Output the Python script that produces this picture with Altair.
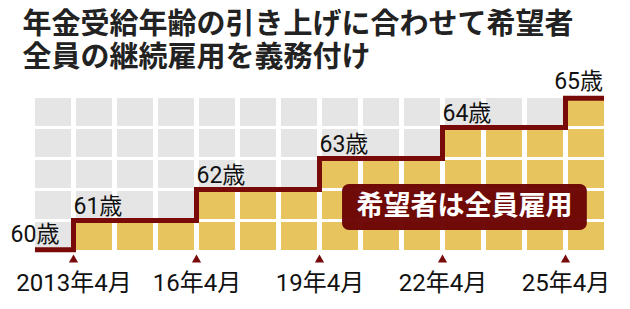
import altair as alt
import pandas as pd

# ---------------- data ----------------
title_lines = ["年金受給年齢の引き上げに合わせて希望者", "全員の継続雇用を義務付け"]
ages = [60, 61, 62, 63, 64, 65]
start_years = [2012, 2013, 2016, 2019, 2022, 2025]   # April of each year
end_year = 2026
n_rows = 5
tick_years = [2013, 2016, 2019, 2022, 2025]
tick_labels = ["2013年4月", "16年4月", "19年4月", "22年4月", "25年4月"]
note_text = "希望者は全員雇用"

# ---------------- styles ----------------
GOLD = "#e8c45e"
GRAY = "#e5e5e5"
DARK = "#780a0a"
BOX = "#6a0202"
NUM_FONT = "'Liberation Sans Narrow', 'Roboto', 'Noto Sans CJK JP', sans-serif"
JP_FONT = "Noto Sans CJK JP"

# ---------------- derived tables ----------------
levels = [a - ages[0] for a in ages]

def level_of(year):
    lv = 0
    for s, l in zip(start_years, levels):
        if year >= s:
            lv = l
    return lv

cells = pd.DataFrame(
    [
        {"col": y, "row": r, "state": "filled" if r < level_of(y) else "empty"}
        for y in range(start_years[0], end_year)
        for r in range(n_rows)
    ]
)

INSET_X = 0.06
INSET_Y = 0.06
xmin, xmax = start_years[0] + INSET_X, end_year - INSET_X
ymin, ymax = INSET_Y, n_rows - INSET_Y

pts_x = start_years + [end_year]
pts_y = levels + [levels[-1]]
line_df = pd.DataFrame(
    {
        "x": [min(max(v, xmin), xmax) for v in pts_x],
        "y": [min(max(v, ymin), ymax) for v in pts_y],
    }
)

age_df = pd.DataFrame(
    {
        "age": ages,
        "label": [f"{a}歳" for a in ages],
        "x": [max(s, xmin) for s in start_years],
        "y": [min(max(l, ymin), ymax) for l in levels],
        "xend": [xmax] * len(ages),
    }
)

ticks_df = pd.DataFrame({"year": tick_years, "zero": [0] * len(tick_years)})

xs = alt.Scale(domain=[start_years[0], end_year], nice=False, zero=False)
ys = alt.Scale(domain=[0, n_rows], nice=False, zero=False)

label_expr = (
    "[" + ",".join(f"'{t}'" for t in tick_labels) + "]"
    + "[indexof([" + ",".join(str(y) for y in tick_years) + "], datum.value)]"
)

x_axis = alt.Axis(
    values=tick_years,
    labelExpr=label_expr,
    domain=False,
    ticks=False,
    tickSize=0,
    grid=False,
    title=None,
    labelFont=NUM_FONT,
    labelFontSize=24,
    labelColor="#111111",
    labelPadding=20,
    labelFlush=False,
    labelOverlap=False,
)

base_cells = alt.Chart(cells).transform_calculate(
    x0="datum.col + 0.061",
    x1="datum.col + 0.939",
    y0="datum.row + 0.048",
    y1="datum.row + 0.952",
)
grid = base_cells.mark_rect().encode(
    x=alt.X("x0:Q", scale=xs, axis=x_axis),
    x2="x1:Q",
    y=alt.Y("y0:Q", scale=ys, axis=None),
    y2="y1:Q",
    color=alt.Color(
        "state:N",
        scale=alt.Scale(domain=["filled", "empty"], range=[GOLD, GRAY]),
        legend=None,
    ),
)

step = alt.Chart(line_df).mark_line(
    interpolate="step-after", strokeWidth=5, color=DARK, strokeCap="butt", strokeJoin="miter"
).encode(
    x=alt.X("x:Q", scale=xs),
    y=alt.Y("y:Q", scale=ys),
    order="x:Q",
)

tri = alt.Chart(ticks_df).mark_point(
    shape="triangle-up", filled=True, size=85, color=DARK, opacity=1, yOffset=7
).encode(
    x=alt.X("year:Q", scale=xs),
    y=alt.Y("zero:Q", scale=ys),
)

AGE_SIZE = 23
age_base = alt.Chart(age_df)
age_first = age_base.transform_filter(f"datum.age == {ages[0]}").mark_text(
    font=NUM_FONT, fontSize=AGE_SIZE, color="#111111", align="center", baseline="alphabetic", dy=-8
).encode(x=alt.X("x:Q", scale=xs), y=alt.Y("y:Q", scale=ys), text="label:N")

age_mid = age_base.transform_filter(
    f"datum.age > {ages[0]} && datum.age < {ages[-1]}"
).mark_text(
    font=NUM_FONT, fontSize=AGE_SIZE, color="#111111", align="left", baseline="alphabetic", dx=0, dy=-7
).encode(x=alt.X("x:Q", scale=xs), y=alt.Y("y:Q", scale=ys), text="label:N")

age_last = age_base.transform_filter(f"datum.age == {ages[-1]}").mark_text(
    font=NUM_FONT, fontSize=AGE_SIZE, color="#111111", align="right", baseline="alphabetic", dx=-1, dy=-9
).encode(x=alt.X("xend:Q", scale=xs), y=alt.Y("y:Q", scale=ys), text="label:N")

note_box = alt.Chart(pd.DataFrame({"t": [note_text]})).mark_rect(
    color=BOX, cornerRadius=7, opacity=0.96
).encode(
    x=alt.X(datum=2019.55, type="quantitative", scale=xs),
    x2=alt.X2(datum=2025.52),
    y=alt.Y(datum=0.69, type="quantitative", scale=ys),
    y2=alt.Y2(datum=2.18),
)
note_txt = alt.Chart(pd.DataFrame({"t": [note_text]})).mark_text(
    font=JP_FONT, fontSize=27, fontWeight="bold", color="white", align="center", baseline="middle"
).encode(
    x=alt.X(datum=2022.535, type="quantitative", scale=xs),
    y=alt.Y(datum=1.44, type="quantitative", scale=ys),
    text="t:N",
)

chart = (
    alt.layer(grid, step, tri, age_first, age_mid, age_last, note_box, note_txt)
    .properties(
        width=574,
        height=155,
        padding={"left": 32.5, "top": 96.5, "right": 23.5, "bottom": 57.5},
        autosize=alt.AutoSizeParams(type="none"),
        title=alt.TitleParams(
            text=title_lines,
            anchor="start",
            frame="group",
            font=JP_FONT,
            fontSize=29,
            fontWeight="bold",
            color="#222222",
            lineHeight=33,
            baseline="bottom",
            dx=-10,
            dy=58,
            offset=27,
        ),
        background="white",
    )
    .configure_view(stroke=None)
)

chart.save("out.html", embed_options={"renderer": "svg", "actions": False})
